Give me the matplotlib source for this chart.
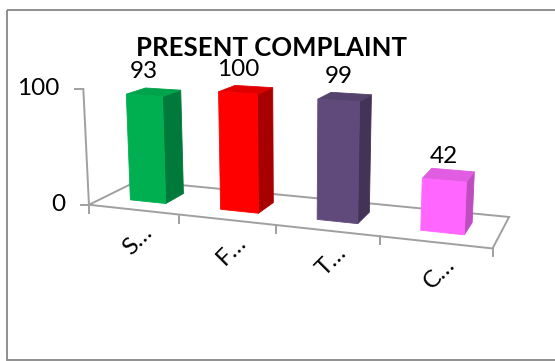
import numpy as np
import matplotlib
matplotlib.use("Agg")
import matplotlib.pyplot as plt
from matplotlib.patches import Polygon, Rectangle

plt.rcParams["font.family"] = ["Lato", "DejaVu Sans"]

# ---- Data ----
title = "PRESENT COMPLAINT"
categories = ["S…", "F…", "T…", "C…"]
values = [93, 100, 99, 42]
y_ticks = [0, 100]

# ---- Column colours: front / right side / top ----
FRONT = ["#00B050", "#FF0000", "#604A7B", "#FF66FF"]
SIDE  = ["#007A3A", "#A80000", "#433356", "#C04DC0"]
TOP   = ["#00A24A", "#E00000", "#54416C", "#E05CE0"]
AXIS  = "#A0A0A0"
BORDER = "#878787"

# ---- 3-D view (perspective camera, screen units = pixels) ----
W, H = 555, 361
AZIM = np.radians(19.9)
ELEV = np.radians(13.07)
DIST = 9.6
FOCAL = 996.5
CX, CY = 294.6, 152.5
HSCALE = 0.01168      # world height per value unit
BAR = 0.4             # column width/depth as fraction of a category
DEPTH = 1.0           # floor depth

n = len(values)
target = np.array([n / 2, 50 * HSCALE, DEPTH / 2])
eye = target + DIST * np.array([np.sin(AZIM) * np.cos(ELEV), np.sin(ELEV),
                                -np.cos(AZIM) * np.cos(ELEV)])
fwd = (target - eye) / np.linalg.norm(target - eye)
right = np.cross([0, 1, 0], fwd)
right /= np.linalg.norm(right)
up = np.cross(fwd, right)


def project(x, v, z):
    """category position, value, depth -> screen pixel (x, y)"""
    q = np.array([x, v * HSCALE, z]) - eye
    d = q @ fwd
    return CX + FOCAL * (q @ right) / d, CY - FOCAL * (q @ up) / d


fig = plt.figure(figsize=(W / 100, H / 100), dpi=100)
ax = fig.add_axes([0, 0, 1, 1])
ax.set_xlim(0, W)
ax.set_ylim(H, 0)
ax.axis("off")

# chart border
ax.add_patch(Rectangle((7, 10), W + 20, H - 11, facecolor="none",
                       edgecolor=BORDER, lw=1.3))

# floor outline
floor = [project(0, 0, 0), project(n, 0, 0), project(n, 0, DEPTH), project(0, 0, DEPTH)]
ax.add_patch(Polygon(floor, closed=True, facecolor="none", edgecolor=AXIS, lw=1.4))

# value axis + ticks
x0, y0 = project(0, 0, 0)
x1, y1 = project(0, max(y_ticks), 0)
ax.plot([x0, x1], [y0, y1], color=AXIS, lw=1.4)
for t in y_ticks:
    tx, ty = project(0, t, 0)
    ax.plot([tx - 8, tx], [ty, ty], color=AXIS, lw=1.4)
    ax.text(tx - 24, ty, str(t), ha="right", va="center", fontsize=17.5, color="black")

# category ticks + labels
for k in range(n + 1):
    tx, ty = project(k, 0, 0)
    ax.plot([tx, tx], [ty, ty + 8], color=AXIS, lw=1.4)
for i, lab in enumerate(categories):
    ax.annotate(lab, project(i + 0.5, 0, 0), xytext=(3, -22), textcoords="offset points",
                rotation=45, ha="center", va="center", fontsize=17.5)

# columns, drawn back-left to front-right
g = (1 - BAR) / 2
z0, z1 = (DEPTH - BAR) / 2, (DEPTH + BAR) / 2
for i, v in enumerate(values):
    a, b = i + g, i + 1 - g
    front = [project(a, 0, z0), project(b, 0, z0), project(b, v, z0), project(a, v, z0)]
    side = [project(b, 0, z0), project(b, 0, z1), project(b, v, z1), project(b, v, z0)]
    top = [project(a, v, z0), project(b, v, z0), project(b, v, z1), project(a, v, z1)]
    for poly, col in ((side, SIDE[i]), (top, TOP[i]), (front, FRONT[i])):
        ax.add_patch(Polygon(poly, closed=True, facecolor=col, edgecolor=col, lw=0.6))
    ax.annotate(str(v), project(i + 0.5, v, z0), xytext=(0, 17), textcoords="offset points",
                ha="center", va="center", fontsize=17.5)

ax.text(272, 48.5, title, ha="center", va="center", fontsize=18.5, fontweight="bold")

fig.savefig("out.png", dpi=100)
